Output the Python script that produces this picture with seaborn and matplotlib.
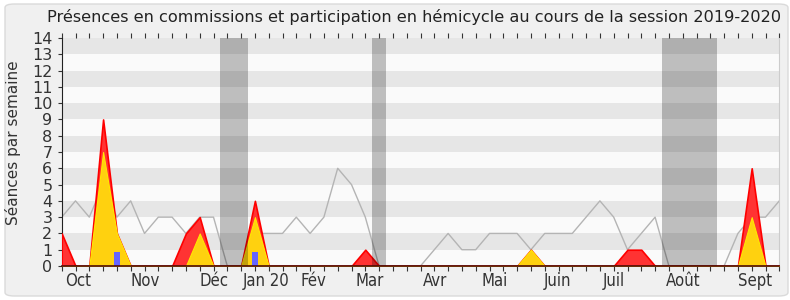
import numpy as np
import pandas as pd
import matplotlib
matplotlib.use("Agg")
import matplotlib.pyplot as plt
from matplotlib.patches import FancyBboxPatch
import seaborn as sns

# ---- data (one value per week of the session) ----
weeks = list(range(53))
median_presence = [3, 4, 3, 5, 3, 4, 2, 3, 3, 2, 3, 3, 0, 0, 2, 2, 2, 3, 2, 3,
                   6, 5, 3, 0, 0, 0, 0, 1, 2, 1, 1, 2, 2, 2, 1, 2, 2, 2, 3, 4,
                   3, 1, 2, 3, 0, 0, 0, 0, 0, 2, 3, 3, 4]
commission_presence = [2, 0, 0, 9, 2, 0, 0, 0, 0, 2, 3, 0, 0, 0, 4, 0, 0, 0, 0, 0,
                       0, 0, 1, 0, 0, 0, 0, 0, 0, 0, 0, 0, 0, 0, 1, 0, 0, 0, 0, 0,
                       0, 1, 1, 0, 0, 0, 0, 0, 0, 0, 6, 0, 0]
commission_interventions = [0, 0, 0, 7, 2, 0, 0, 0, 0, 0, 2, 0, 0, 0, 3, 0, 0, 0, 0, 0,
                            0, 0, 0, 0, 0, 0, 0, 0, 0, 0, 0, 0, 0, 0, 1, 0, 0, 0, 0, 0,
                            0, 0, 0, 0, 0, 0, 0, 0, 0, 0, 3, 0, 0]
hemicycle_weeks = [4, 14]
hemicycle_values = [0.87, 0.87]
vacation_start = [11.5, 22.5, 43.5]
vacation_end = [13.5, 23.5, 47.5]
month_labels = ["Oct", "Nov", "Déc", "Jan 20", "Fév", "Mar", "Avr", "Mai",
                "Juin", "Juil", "Août", "Sept"]
month_pos = [0.25, 5.0, 10.0, 13.1, 17.3, 21.3, 26.2, 30.4, 34.9, 39.2, 43.8, 49.0]
y_ticks = list(range(15))

df = pd.DataFrame({"week": weeks, "median": median_presence,
                   "presence": commission_presence,
                   "interv": commission_interventions})

plt.rcParams['font.family'] = ['DejaVu Sans']

fig = plt.figure(figsize=(7.9, 3.0), dpi=100)
fig.patch.set_facecolor('white')
frame = FancyBboxPatch((5 / 790, 4 / 300), 783 / 790, 292 / 300,
                       boxstyle="round,pad=0,rounding_size=0.012",
                       transform=fig.transFigure, fc='#f0f0f0', ec='#dadada',
                       lw=1, zorder=-10)
fig.patches.append(frame)

ax = fig.add_axes([61.7 / 790, 34 / 300, 717.6 / 790, 228 / 300])
ax.set_facecolor('#fafafa')

# horizontal stripes
for k in range(14):
    ax.axhspan(k, k + 1, color='#fafafa' if k % 2 == 0 else '#e6e6e6',
               lw=0, zorder=0)

# median line
sns.lineplot(data=df, x="week", y="median", ax=ax, color='#b4b4b4',
             lw=1, zorder=2, legend=False)

# commission presence (red) and interventions (yellow)
ax.fill_between(df["week"], 0, df["presence"], facecolor='#ff3333',
                edgecolor='#ff0000', lw=1.2, zorder=3)
ax.fill_between(df["week"], 0, df["interv"], facecolor='#ffd10f',
                edgecolor='#ffe800', lw=0.8, zorder=4)

# hemicycle bars
ax.bar(hemicycle_weeks, hemicycle_values, width=0.38, color='#6464ff',
       lw=0, zorder=5)

# vacations
for s, e in zip(vacation_start, vacation_end):
    ax.axvspan(s, e, color='black', alpha=0.24, lw=0, zorder=6)

ax.set_xlim(0, 52)
ax.set_ylim(0, 14)

ax.xaxis.remove_overlapping_locs = False
ax.set_xticks(weeks)
ax.set_xticklabels([])
ax.set_xticks(month_pos, minor=True)
ax.set_xticklabels(month_labels, minor=True, ha='left',
                   fontstretch='condensed',
                   fontsize=12, color='#333333')
ax.tick_params(axis='x', which='major', direction='out', length=3.4,
               width=0.8, color='#333333', top=True)
ax.tick_params(axis='x', which='minor', length=0, pad=4)
ax.set_yticks(y_ticks)
ax.set_yticklabels([str(v) for v in y_ticks], fontsize=11.5, color='#333333')
ax.tick_params(axis='y', direction='out', length=2.9, width=0.8,
               color='#333333', pad=3.8)

ax.spines['top'].set_visible(False)
ax.spines['right'].set_color('#cccccc')
ax.spines['left'].set_color('#222222')
ax.spines['left'].set_linewidth(0.8)
ax.spines['bottom'].set_color('#4d0a0a')
ax.spines['bottom'].set_linewidth(1.2)
ax.spines['bottom'].set_zorder(7)

ax.set_xlabel("")
ax.set_ylabel("")
fig.text(0.017, 1 - 143 / 300, "Séances par semaine", rotation=90,
         ha='center', va='center', fontsize=11, color='#333333')
fig.text(414 / 790, 1 - 17 / 300,
         "Présences en commissions et participation en hémicycle au cours de la session 2019-2020",
         ha='center', va='center', fontsize=11.6, color='#222222')

fig.savefig("out.png", dpi=100, facecolor=fig.get_facecolor())
